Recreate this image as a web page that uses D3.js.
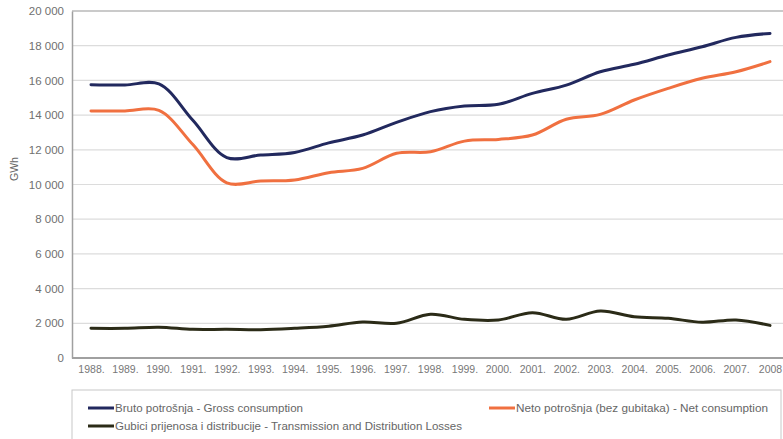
<!DOCTYPE html>
<html>
<head>
<meta charset="utf-8">
<script src="https://cdn.jsdelivr.net/npm/d3@7/dist/d3.min.js"></script>
<style>
  html, body { margin: 0; padding: 0; background: #fff; }
  svg { display: block; }
  text { font-family: "Liberation Sans", Arial, sans-serif; }
</style>
</head>
<body>
<svg id="chart" width="783" height="439"></svg>
<script>
const years = [1988,1989,1990,1991,1992,1993,1994,1995,1996,1997,1998,1999,2000,2001,2002,2003,2004,2005,2006,2007,2008];
const yearLabels = ["1988.","1989.","1990.","1991.","1992.","1993.","1994.","1995.","1996.","1997.","1998.","1999.","2000.","2001.","2002.","2003.","2004.","2005.","2006.","2007.","2008"];
const gross  = [15750,15730,15800,13700,11550,11700,11850,12400,12850,13580,14200,14520,14620,15250,15730,16500,16930,17460,17940,18480,18710];
const net    = [14240,14240,14270,12300,10100,10200,10260,10680,10930,11800,11890,12500,12600,12850,13760,14040,14870,15540,16120,16500,17080];
const losses = [1710,1710,1770,1650,1650,1630,1710,1830,2070,2000,2520,2230,2190,2610,2230,2710,2380,2290,2060,2190,1880];
const yTicks = [0,2000,4000,6000,8000,10000,12000,14000,16000,18000,20000];
const seriesNames = ["Bruto potrošnja - Gross consumption","Neto potrošnja (bez gubitaka) - Net consumption","Gubici prijenosa i distribucije - Transmission and Distribution Losses"];
const seriesColors = ["#22295e","#f07040","#2b2b17"];

const svg = d3.select("#chart");
const plotL = 72, plotR = 783, plotT = 11, plotB = 358;

const x = d3.scaleLinear().domain([1988, 2008]).range([91, 770]);
const y = d3.scaleLinear().domain([0, 20000]).range([plotB, plotT]);

// gridlines
svg.append("g").selectAll("line").data(yTicks.filter(d => d > 0)).join("line")
  .attr("x1", plotL).attr("x2", plotR)
  .attr("y1", d => y(d)).attr("y2", d => y(d))
  .attr("stroke", d => d === 20000 ? "#b8b8b8" : "#dcdcdc").attr("stroke-width", d => d === 20000 ? 1.5 : 1.2);

// y axis
const yAxis = d3.axisLeft(y).tickValues(yTicks).tickSize(0).tickPadding(8)
  .tickFormat(d => d3.format(",")(d).replace(/,/g, " "));
const yg = svg.append("g").attr("transform", `translate(${plotL},0)`).call(yAxis);
yg.select(".domain").attr("stroke", "#a0a0a0").attr("stroke-width", 1.5);
yg.selectAll("text").attr("fill", "#707070").attr("font-size", 11.5).attr("font-family", "'Liberation Sans', Arial, sans-serif");

// x axis
const xAxis = d3.axisBottom(x).tickValues(years).tickSize(0).tickPadding(8)
  .tickFormat((d, i) => yearLabels[i]);
const xg = svg.append("g").attr("transform", `translate(0,${plotB})`).call(xAxis);
xg.select(".domain").remove();
xg.selectAll("text").attr("fill", "#777").attr("font-size", 10.5).attr("font-family", "'Liberation Sans', Arial, sans-serif");
svg.append("line").attr("x1", plotL).attr("x2", plotR).attr("y1", plotB).attr("y2", plotB)
  .attr("stroke", "#a0a0a0").attr("stroke-width", 2);

// y label
svg.append("text").attr("transform", "translate(18,169) rotate(-90)")
  .attr("text-anchor", "middle").attr("font-size", 10.5).attr("fill", "#666").text("GWh");

// lines
const line = d3.line().x((d, i) => x(years[i])).y(d => y(d)).curve(d3.curveCatmullRom.alpha(0.5));
[gross, net, losses].forEach((s, k) => {
  svg.append("path").datum(s).attr("d", line)
    .attr("fill", "none").attr("stroke", seriesColors[k])
    .attr("stroke-width", 3).attr("stroke-linejoin", "round").attr("stroke-linecap", "round");
});

// legend box
svg.append("rect").attr("x", 72).attr("y", 390).attr("width", 709).attr("height", 60)
  .attr("fill", "#fff").attr("stroke", "#c8c8c8").attr("stroke-width", 1);

const legendItems = [
  {x: 88, y: 408, w: 188},
  {x: 489, y: 408, w: 252},
  {x: 88, y: 426, w: 347}
];
legendItems.forEach((it, k) => {
  svg.append("line").attr("x1", it.x).attr("x2", it.x + 26).attr("y1", it.y).attr("y2", it.y)
    .attr("stroke", seriesColors[k]).attr("stroke-width", 3);
  svg.append("text").attr("x", it.x + 27).attr("y", it.y + 4)
    .attr("font-size", 11.5).attr("fill", "#666")
    .attr("textLength", it.w).attr("lengthAdjust", "spacingAndGlyphs")
    .text(seriesNames[k]);
});
</script>
</body>
</html>
